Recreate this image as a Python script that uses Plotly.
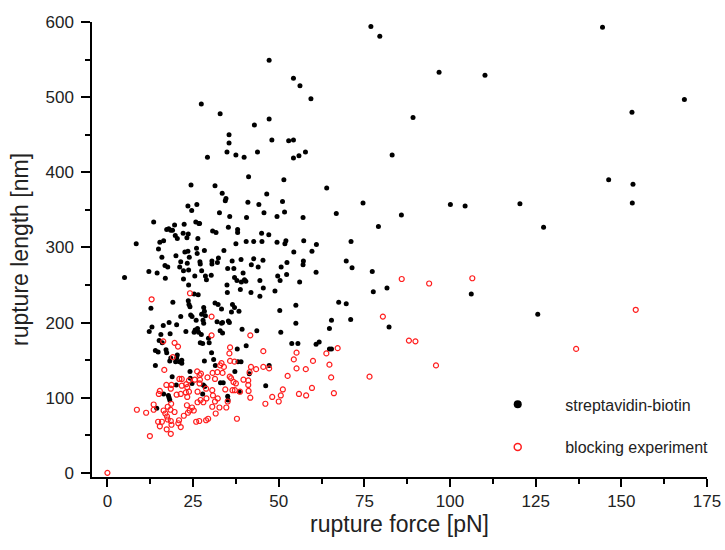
import plotly.graph_objects as go

# streptavidin-biotin: rupture force [pN], rupture length [nm]
sb_force = [
    76.9, 79.5, 96.8, 110.2, 144.5, 168.4, 153.1, 89.2, 83.1, 146.3, 153.4, 153.2, 74.6, 66.8,
    85.8, 100.1, 104.4, 120.4, 79.1, 127.3, 71.1,
    69.7, 71.4, 77.3, 77.6, 81.6, 67.5, 69.7, 65.4, 71.0, 64.8, 82.2, 106.2, 125.6, 64.8, 65.4,
    47.2, 54.3, 56.2, 59.4, 27.4, 32.9, 42.9, 47.2, 35.5, 35.5, 48.0, 52.9, 54.3, 34.9, 37.5,
    39.9, 43.8, 29.2, 54.3, 55.9, 57.8, 41.2, 51.5, 31.4, 64.0,
    33.5, 34.6, 34.4, 41.0, 44.2, 46.5, 51.1, 32.7, 35.7, 40.6, 45.7, 49.5, 51.7, 57.1, 26.9,
    30.7, 31.7, 35.3, 38.0, 38.0, 45.0, 47.1, 37.5, 40.5, 42.7, 45.1, 49.5, 52.1, 51.8, 57.3,
    61.0, 28.3, 34.0, 54.4, 59.7, 27.0, 27.1, 30.5, 30.5, 32.4, 32.1, 36.4, 39.0, 42.7, 42.0,
    44.0, 45.4, 52.4, 50.7, 57.2, 57.1, 60.9, 27.5, 35.1, 36.9, 39.6, 40.0, 28.6, 28.9, 30.3,
    37.1, 37.8, 39.1, 40.4, 49.7, 50.4, 52.3, 44.5, 56.1, 34.9, 35.0, 38.8, 41.9, 44.5, 45.5,
    48.9,
    31.4, 32.3, 33.3, 36.5, 37.1, 36.2, 38.4, 28.1, 28.3, 28.6, 27.9, 28.1, 32.0, 33.6, 33.3,
    35.3, 35.6, 50.3, 55.0, 55.0, 39.3, 43.6, 50.6, 32.9, 33.6, 27.4, 29.5, 27.1, 27.8, 29.7,
    53.8, 55.6, 60.9, 61.8, 37.9, 40.5, 30.4, 31.0, 28.3, 38.1, 39.0, 31.5, 47.2, 37.2, 41.4,
    33.0, 33.8, 46.2, 38.5, 27.8, 35.1, 35.2,
    12.7, 19.1, 23.6, 23.8, 24.1, 25.3, 26.5, 21.4, 24.3, 24.7, 27.5, 13.0, 16.3, 18.0, 20.2,
    12.2, 15.6, 18.3, 22.9, 25.9, 25.6, 26.3, 26.6, 25.3, 15.1, 16.0, 14.0, 14.8, 17.1, 17.3,
    20.4, 20.2, 18.2, 18.5, 21.7, 21.7, 14.0, 19.9, 21.0, 24.1, 18.9, 24.2, 24.7, 28.0, 28.4,
    20.1, 16.4, 17.8, 18.0, 14.4, 18.2,
    24.4, 23.5, 26.1, 24.6, 13.5, 17.3, 17.9, 18.5, 19.0, 19.6, 22.4, 25.8, 26.7, 8.4, 15.3,
    16.4, 19.8, 20.4, 22.1, 23.6, 23.2, 26.4, 14.9, 15.9, 20.0, 22.6, 23.5, 23.9, 26.0, 26.2,
    21.4, 16.8, 17.6, 23.3, 23.7, 21.1, 22.2, 12.1, 14.5, 25.5, 16.9, 22.2, 5.0, 23.7,
]
sb_length = [
    594, 581, 533, 529, 593, 497, 480, 473, 423, 390, 384, 359, 359, 345,
    343, 357, 355, 358, 328, 327, 308,
    282, 273, 268, 241, 246, 227, 225, 203, 204, 192, 194, 238, 211, 165, 165,
    549, 525, 515, 498, 491, 478, 463, 471, 450, 439, 443, 442, 443, 427, 423,
    420, 427, 420, 419, 422, 427, 394, 390, 382, 379,
    372, 365, 362, 360, 357, 371, 361, 346, 341, 340, 346, 341, 347, 340, 332,
    322, 320, 327, 324, 320, 319, 317, 305, 308, 308, 308, 307, 309, 305, 309,
    304, 296, 296, 294, 295, 281, 278, 282, 278, 286, 280, 282, 284, 285, 277,
    274, 283, 280, 274, 282, 277, 267, 269, 272, 272, 266, 257, 262, 257, 263,
    260, 256, 254, 255, 262, 256, 264, 256, 254, 250, 240, 244, 240, 235, 246,
    242,
    226, 224, 218, 224, 220, 214, 215, 220, 215, 209, 203, 199, 201, 200, 199,
    202, 200, 216, 223, 199, 191, 189, 187, 189, 186, 184, 179, 173, 172, 173,
    172, 172, 171, 174, 165, 169, 160, 151, 149, 148, 148, 143, 143, 135, 132,
    120, 120, 116, 108, 105, 102, 97,
    219, 227, 229, 224, 221, 238, 237, 208, 210, 208, 211, 194, 196, 200, 197,
    188, 184, 185, 188, 203, 190, 192, 187, 187, 176, 173, 163, 161, 164, 160,
    157, 153, 149, 153, 150, 146, 143, 148, 148, 135, 128, 126, 119, 117, 115,
    117, 105, 103, 100, 86, 97,
    383, 355, 357, 349, 334, 324, 325, 323, 323, 330, 331, 334, 332, 305, 307,
    309, 316, 312, 319, 318, 313, 312, 298, 287, 289, 294, 295, 287, 299, 292,
    281, 276, 274, 279, 270, 274, 269, 268, 266, 262, 259, 258, 260, 250,
]

# blocking experiment
bl_force = [
    0.0, 154.2, 85.9, 93.9, 106.5, 80.4, 88.0, 89.9, 67.2, 64.8, 95.9, 65.3, 76.5, 136.8,
    30.4, 30.4, 41.7, 35.8, 45.5, 35.6, 55.2, 54.4, 60.0, 63.9, 35.8, 37.1, 33.3, 32.9, 34.0,
    41.9, 43.4, 45.5, 47.2, 55.2, 57.9, 30.7, 32.1, 33.6, 41.5, 27.3, 27.0, 29.2, 31.4, 35.7,
    36.1, 36.8, 37.5, 39.7, 41.1, 41.1, 52.6, 28.8, 30.6, 30.8, 34.4, 36.5, 37.2, 38.7, 41.2,
    41.7, 51.2, 59.7, 55.9, 58.0, 48.1, 50.6, 66.1, 32.2, 31.4, 35.1, 28.9, 27.2, 46.1, 30.6,
    32.7, 34.7,
    8.6, 11.3, 13.5, 13.5, 12.4, 16.4, 16.9, 17.4, 17.6, 17.6, 14.8, 15.9, 15.3, 18.4, 19.6,
    18.5, 18.7, 17.3, 18.5, 20.9, 20.7, 21.4, 22.3, 23.5, 24.0, 25.2, 24.7, 26.3, 28.0, 25.9,
    26.8, 28.8, 29.4, 31.6, 23.2, 18.6,
    12.9, 24.1, 16.3, 19.6, 20.6, 19.1, 16.6, 26.2, 26.9, 21.7, 21.0, 23.8, 23.0, 25.5, 26.9,
    15.3, 15.0, 17.2, 18.7, 21.7, 23.3, 18.5, 20.2, 21.4, 22.9, 23.8, 23.3, 26.3,
    37.8, 50.0,
]
bl_length = [
    0, 217, 258, 252, 259, 208, 176, 175, 166, 144, 143, 127, 128, 165,
    208, 183, 183, 167, 162, 159, 160, 151, 149, 159, 149, 148, 146, 143, 141,
    141, 138, 141, 139, 139, 138, 133, 134, 133, 134, 132, 124, 127, 125, 128,
    126, 121, 119, 124, 123, 117, 129, 112, 110, 103, 111, 110, 110, 108, 109,
    100, 111, 113, 105, 103, 101, 103, 106, 99, 95, 95, 99, 97, 92, 88,
    87, 87,
    84, 80, 91, 84, 49, 83, 79, 75, 71, 88, 68, 68, 62, 84, 81,
    69, 64, 58, 52, 70, 66, 61, 76, 80, 83, 83, 87, 94, 94, 68,
    69, 70, 72, 79, 90, 92,
    231, 239, 175, 173, 168, 154, 137, 135, 130, 125, 125, 123, 118, 124, 119,
    109, 105, 117, 117, 116, 114, 112, 104, 105, 107, 108, 101, 108,
    72, 95,
]

x_ticks = [0, 25, 50, 75, 100, 125, 150, 175]
y_ticks = [0, 100, 200, 300, 400, 500, 600]

FONT = "Liberation Sans, Arial, sans-serif"
RED = "rgb(255,30,30)"

fig = go.Figure()

# data clouds
fig.add_trace(go.Scatter(x=sb_force, y=sb_length, mode="markers", showlegend=False,
                         marker=dict(color="black", size=5, line=dict(width=0))))
fig.add_trace(go.Scatter(x=bl_force, y=bl_length, mode="markers", showlegend=False,
                         marker=dict(color=RED, size=5, symbol="circle-open",
                                     line=dict(width=1.2, color=RED))))

# legend entries with the larger Origin-style symbols
fig.add_trace(go.Scatter(x=[None], y=[None], mode="markers", name="streptavidin-biotin",
                         legendgroup="a",
                         marker=dict(color="black", size=8)))
fig.add_trace(go.Scatter(x=[None], y=[None], mode="markers", name="blocking experiment",
                         legendgroup="b",
                         marker=dict(color=RED, size=7, symbol="circle-open",
                                     line=dict(width=1.5, color=RED))))

axis_common = dict(showline=True, linecolor="black", linewidth=1.5, ticks="outside",
                   tickcolor="black", tickwidth=1.5, showgrid=False,
                   zeroline=False, mirror=False, automargin=False,
                   tickfont=dict(family=FONT, size=17, color="#222"))

fig.update_layout(
    width=725, height=550,
    paper_bgcolor="white", plot_bgcolor="white",
    margin=dict(l=92, r=13, t=22, b=73),
    font=dict(family=FONT, color="#222"),
    xaxis=dict(axis_common, range=[-4.5, 175], tickvals=x_ticks, ticklen=8,
               minor=dict(ticks="outside", dtick=12.5, tick0=0, ticklen=5,
                          tickwidth=1.5, tickcolor="black"),
               title=dict(text="rupture force [pN]", standoff=2,
                          font=dict(family=FONT, size=23, color="#222"))),
    yaxis=dict(axis_common, range=[-5.5, 600], tickvals=y_ticks, ticklen=9,
               ticklabelstandoff=4,
               minor=dict(ticks="outside", dtick=50, tick0=0, ticklen=5,
                          tickwidth=1.5, tickcolor="black"),
               title=dict(text="rupture length [nm]", standoff=10,
                          font=dict(family=FONT, size=23, color="#222"))),
    # kept narrow enough that the legend does not push the right margin
    legend=dict(x=0.615, y=0.197, xanchor="left", yanchor="top",
                bgcolor="rgba(0,0,0,0)", itemwidth=85, tracegroupgap=19,
                font=dict(family=FONT, size=16, color="#222")),
)

# the page body has an 8px default margin; drop it so the figure fills the window
fig.write_html("out.html", config={"displayModeBar": False},
               post_script="document.body.style.margin = '0';")
